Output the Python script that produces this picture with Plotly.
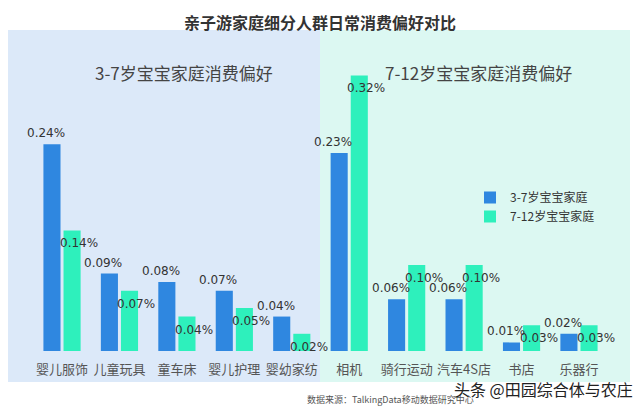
import plotly.graph_objects as go

categories = ["婴儿服饰", "儿童玩具", "童车床", "婴儿护理", "婴幼家纺",
              "相机", "骑行运动", "汽车4S店", "书店", "乐器行"]
series_a_name = "3-7岁宝宝家庭"
series_b_name = "7-12岁宝宝家庭"
series_a = [0.24, 0.09, 0.08, 0.07, 0.04, 0.23, 0.06, 0.06, 0.01, 0.02]
series_b = [0.14, 0.07, 0.04, 0.05, 0.02, 0.32, 0.10, 0.10, 0.03, 0.03]

title = "亲子游家庭细分人群日常消费偏好对比"
left_title = "3-7岁宝宝家庭消费偏好"
right_title = "7-12岁宝宝家庭消费偏好"
source = "数据来源：TalkingData移动数据研究中心"
watermark = "头条 @田园综合体与农庄"

W, H = 640, 407
BLUE = "#2f87e0"
GREEN = "#2ef0bc"
FONT = "DejaVu Sans, Noto Sans CJK SC, sans-serif"
CJK = "Noto Sans CJK SC, sans-serif"

fig = go.Figure()
fig.add_bar(x=categories, y=series_a, name=series_a_name, marker_color=BLUE,
            marker_line_width=0, hoverinfo="x+y")
fig.add_bar(x=categories, y=series_b, name=series_b_name, marker_color=GREEN,
            marker_line_width=0, hoverinfo="x+y")

def px(x):
    return x / W

def py(y):
    return (H - y) / H

shapes = [
    dict(type="rect", xref="paper", yref="paper", x0=px(8), x1=px(320),
         y0=py(382), y1=py(30), fillcolor="#dce9f9", line_width=0, layer="below"),
    dict(type="rect", xref="paper", yref="paper", x0=px(320), x1=px(630),
         y0=py(382), y1=py(30), fillcolor="#dcf8f2", line_width=0, layer="below"),
]

annotations = []
for c, v in zip(categories, series_a):
    annotations.append(dict(x=c, y=v, xref="x", yref="y", text=f"{v:.2f}%",
                            showarrow=False, xshift=-16, yshift=11,
                            xanchor="center", yanchor="middle",
                            font=dict(family=FONT, size=12, color="#333")))
for c, v in zip(categories, series_b):
    annotations.append(dict(x=c, y=v, xref="x", yref="y", text=f"{v:.2f}%",
                            showarrow=False, xshift=17, yshift=-13,
                            xanchor="center", yanchor="middle",
                            font=dict(family=FONT, size=12, color="#333")))

def label(x, y, text, size, color):
    return dict(x=px(x), y=py(y), xref="paper", yref="paper", text=text,
                showarrow=False, xanchor="center", yanchor="middle",
                font=dict(family=CJK, size=size, color=color))

annotations += [
    label(320, 22, f"<b>{title}</b>", 16, "#333"),
    label(184, 72, left_title, 17, "#444"),
    label(478, 72, right_title, 17, "#444"),
    label(390, 399, source, 9, "#555"),
    label(543, 389, watermark, 16, "#222"),
]

fig.update_layout(
    width=W, height=H,
    margin=dict(l=0, r=0, t=0, b=0),
    paper_bgcolor="white", plot_bgcolor="rgba(0,0,0,0)",
    barmode="group", bargap=0.30, bargroupgap=0.15,
    shapes=shapes, annotations=annotations,
    showlegend=True,
    legend=dict(x=px(470), y=py(183), xanchor="left", yanchor="top",
                bgcolor="rgba(0,0,0,0)", tracegroupgap=4, itemwidth=30,
                font=dict(family=CJK, size=12, color="#333")),
    xaxis=dict(domain=[px(33.3), px(607.7)], range=[-0.5, len(categories) - 0.5],
               autorange=False, automargin=False,
               showgrid=False, zeroline=False,
               showline=False, ticks="", ticklabelstandoff=9,
               tickfont=dict(family=CJK, size=13, color="#555"), fixedrange=True),
    yaxis=dict(domain=[py(351), py(49.6)], range=[0, 0.35], visible=False,
               fixedrange=True),
)

fig.write_html(
    "out.html",
    config={"displayModeBar": False},
    post_script="document.body.style.margin='0';document.body.style.overflow='hidden';",
)
